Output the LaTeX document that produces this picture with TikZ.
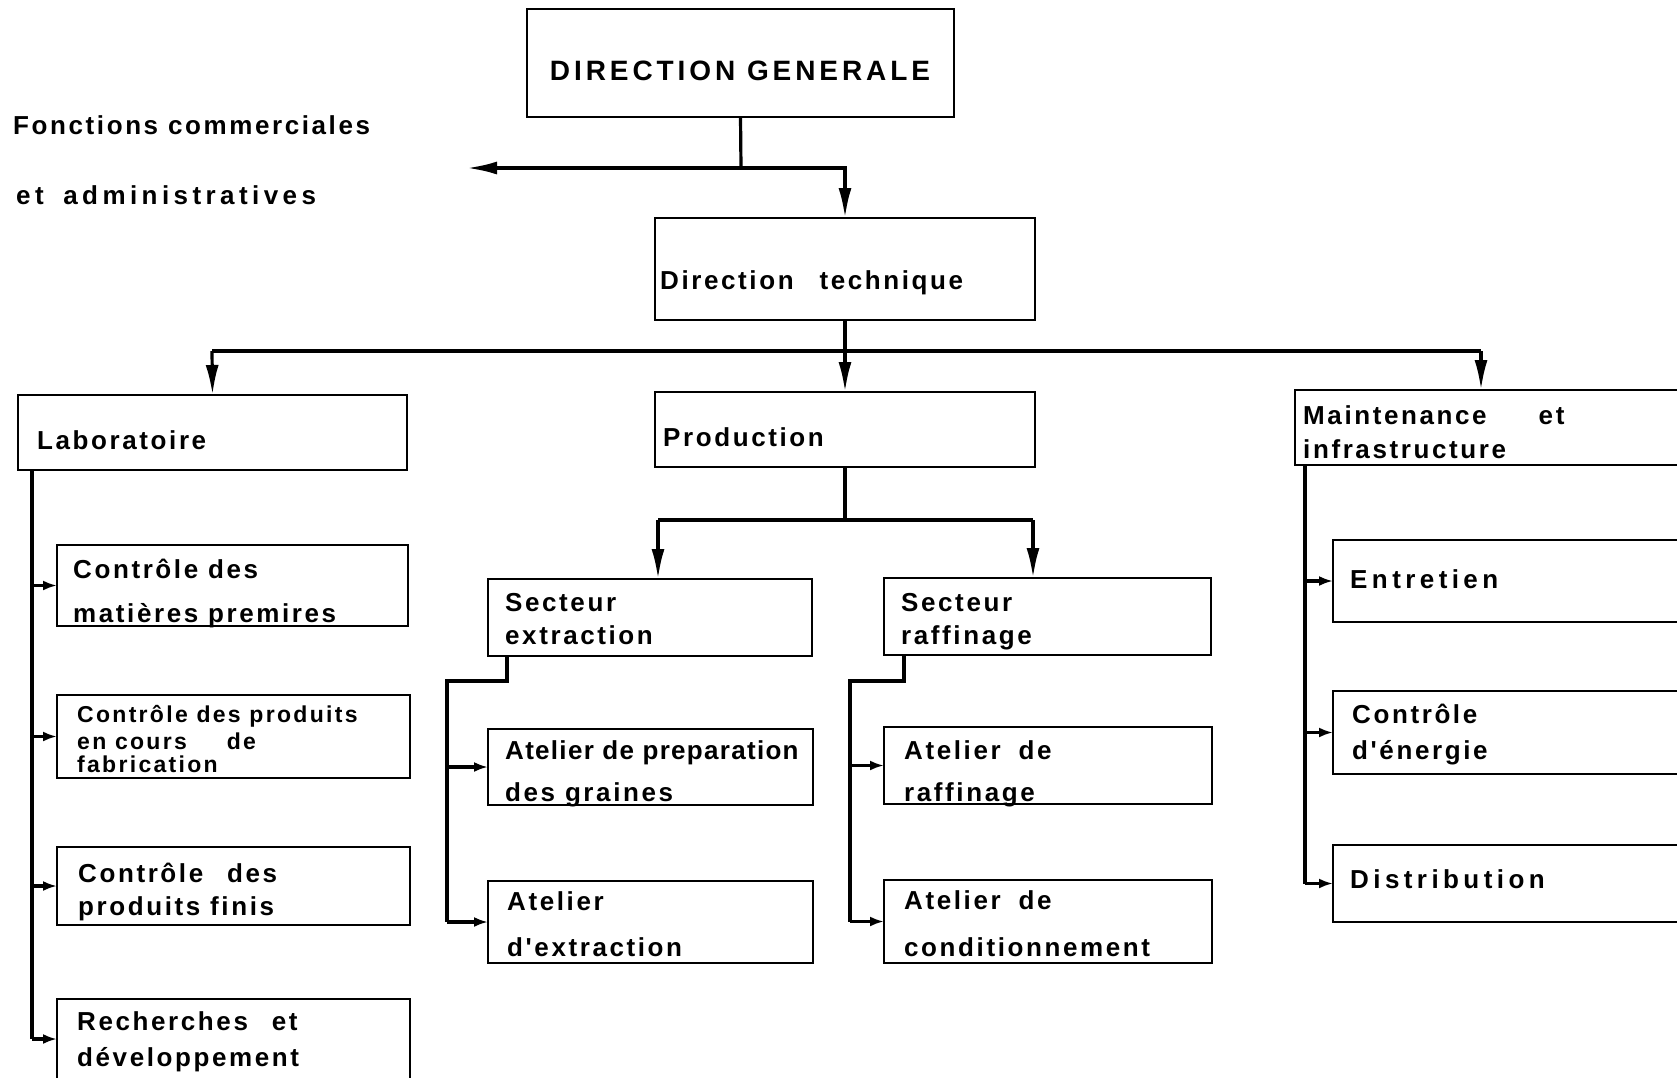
\documentclass[tikz,border=0pt]{standalone}
\usepackage{fontspec}
\usetikzlibrary{arrows.meta}
\setmainfont{Liberation Sans}
\newfontfamily\orgfont[LetterSpace=10]{Liberation Sans}
\newfontfamily\orgfontB[LetterSpace=14]{Liberation Sans}
\newfontfamily\orgfontC[LetterSpace=5]{Liberation Sans}
\newfontfamily\orgfontW[LetterSpace=17]{Liberation Sans}
\tikzset{
  box/.style={draw, line width=2.2pt, inner sep=0pt, outer sep=0pt, anchor=north west},
  txt/.style={inner sep=0pt, anchor=base west, font=\orgfont\bfseries\fontsize{26}{30}\selectfont},
  txtc/.style={txt, font=\orgfontC\bfseries\fontsize{26}{30}\selectfont},
  txtw/.style={txt, font=\orgfontW\bfseries\fontsize{26}{30}\selectfont},
  txts/.style={txt, font=\orgfont\bfseries\fontsize{23}{26}\selectfont},
  wire/.style={line width=3.2pt},
  arr/.style={wire, -{Latex[length=30pt,width=13pt]}},
  sarr/.style={wire, -{Latex[length=14pt,width=10pt]}},
}
\begin{document}
\begin{tikzpicture}[x=1pt,y=-1pt]
\useasboundingbox (0,0) rectangle (1677,1077);
\clip (0,0) rectangle (1677,1077);
% boxes
\node[box, minimum width=427, minimum height=108] (dg) at (527,9) {};
\node[box, minimum width=380, minimum height=102] (dt) at (655,218) {};
\node[box, minimum width=389, minimum height=75] (lab) at (18,395) {};
\node[box, minimum width=380, minimum height=75] (prod) at (655,392) {};
\node[box, minimum width=420, minimum height=75] (maint) at (1295,390) {};
\node[box, minimum width=324, minimum height=77] (se) at (488,579) {};
\node[box, minimum width=327, minimum height=77] (sr) at (884,578) {};
\node[box, minimum width=325, minimum height=76] (ap) at (488,729) {};
\node[box, minimum width=325, minimum height=82] (ae) at (488,881) {};
\node[box, minimum width=328, minimum height=77] (ar) at (884,727) {};
\node[box, minimum width=328, minimum height=83] (ac) at (884,880) {};
\node[box, minimum width=351, minimum height=81] (c1) at (57,545) {};
\node[box, minimum width=353, minimum height=83] (c2) at (57,695) {};
\node[box, minimum width=353, minimum height=78] (c3) at (57,847) {};
\node[box, minimum width=353, minimum height=80] (rd) at (57,999) {};
\node[box, minimum width=380, minimum height=82] (en) at (1333,540) {};
\node[box, minimum width=380, minimum height=83] (ce) at (1333,691) {};
\node[box, minimum width=380, minimum height=77] (di) at (1333,845) {};
% texts
\node[txt, anchor=base, font=\orgfontB\bfseries\fontsize{28}{32}\selectfont] (dg-t) at (740,80) {DIRECTION GENERALE};
\node[txt] (fc1) at (13,134) {Fonctions commerciales};
\node[txtw] (fc2) at (16,204) {et\hspace{8pt} administratives};
\node[txt] (dt-t) at (660,289) {Direction\hspace{16pt} technique};
\node[txt] (lab-t) at (37,449) {Laboratoire};
\node[txt] (prod-t) at (663,446) {Production};
\node[txt] (mt1) at (1303,424) {Maintenance\hspace{52pt}et};
\node[txt] (mt2) at (1303,458) {infrastructure};
\node[txt] (se1) at (505,611) {Secteur};
\node[txt] (se2) at (505,644) {extraction};
\node[txt] (sr1) at (901,611) {Secteur};
\node[txt] (sr2) at (901,644) {raffinage};
\node[txtc] (ap1) at (505,759) {Atelier de preparation};
\node[txt] (ap2) at (505,801) {des graines};
\node[txt] (ae1) at (507,910) {Atelier};
\node[txt] (ae2) at (507,956) {d'extraction};
\node[txt] (ar1) at (904,759) {Atelier\hspace{8pt} de};
\node[txt] (ar2) at (904,801) {raffinage};
\node[txt] (ac1) at (904,909) {Atelier\hspace{8pt} de};
\node[txt] (ac2) at (904,956) {conditionnement};
\node[txt] (c1a) at (73,578) {Contrôle des};
\node[txt] (c1b) at (73,622) {matières premires};
\node[txts] (c2a) at (77,722) {Contrôle des produits};
\node[txts] (c2b) at (77,749) {en cours\hspace{40pt}de};
\node[txts] (c2c) at (77,772) {fabrication};
\node[txt] (c3a) at (78,882) {Contrôle\hspace{14pt} des};
\node[txt] (c3b) at (78,915) {produits finis};
\node[txt] (rda) at (77,1030) {Recherches\hspace{14pt} et};
\node[txt] (rdb) at (77,1066) {développement};
\node[txtw] (en-t) at (1350,588) {Entretien};
\node[txt] (cea) at (1352,723) {Contrôle};
\node[txt] (ceb) at (1352,759) {d'énergie};
\node[txtw] (di-t) at (1350,888) {Distribution};
% connectors: top
\coordinate (j1) at (741,168);
\coordinate (fcend) at (467,168);
\draw[wire] (dg.south) -- (j1);
\draw[arr] (j1) -- (fcend);
\draw[arr] (j1) -| (dt.north);
% second level
\coordinate (j2) at (845,351);
\coordinate (b1) at (212,351);
\coordinate (b3) at (1481,351);
\draw[wire] (dt.south) -- (j2);
\draw[wire] (b1) -- (b3);
\draw[arr] (b1) -- (lab.north);
\draw[arr] (j2) -- (prod.north);
\draw[arr] (b3) -- (b3 |- maint.north);
% production
\coordinate (j3) at (845,520);
\coordinate (p1) at (658,520);
\coordinate (p2) at (1033,520);
\draw[wire] (prod.south) -- (j3);
\draw[wire] (p1) -- (p2);
\draw[arr] (p1) -- (p1 |- se.north);
\draw[arr] (p2) -- (p2 |- sr.north);
% secteur extraction
\coordinate (k1) at (507,681);
\coordinate (s1) at (447,681);
\draw[wire] (k1 |- se.south) -- (k1) -- (s1) -- (s1 |- ae.west);
\draw[sarr] (s1 |- ap.west) -- (ap.west);
\draw[sarr] (s1 |- ae.west) -- (ae.west);
% secteur raffinage
\coordinate (k2) at (904,681);
\coordinate (s2) at (850,681);
\draw[wire] (k2 |- sr.south) -- (k2) -- (s2) -- (s2 |- ac.west);
\draw[sarr] (s2 |- ar.west) -- (ar.west);
\draw[sarr] (s2 |- ac.west) -- (ac.west);
% laboratoire
\coordinate (ls) at (32,470);
\draw[wire] (ls |- lab.south) -- (ls |- rd.west);
\draw[sarr] (ls |- c1.west) -- (c1.west);
\draw[sarr] (ls |- c2.west) -- (c2.west);
\draw[sarr] (ls |- c3.west) -- (c3.west);
\draw[sarr] (ls |- rd.west) -- (rd.west);
% maintenance
\coordinate (ms) at (1305,465);
\draw[wire] (ms |- maint.south) -- (ms |- di.west);
\draw[sarr] (ms |- en.west) -- (en.west);
\draw[sarr] (ms |- ce.west) -- (ce.west);
\draw[sarr] (ms |- di.west) -- (di.west);
\end{tikzpicture}
\end{document}
